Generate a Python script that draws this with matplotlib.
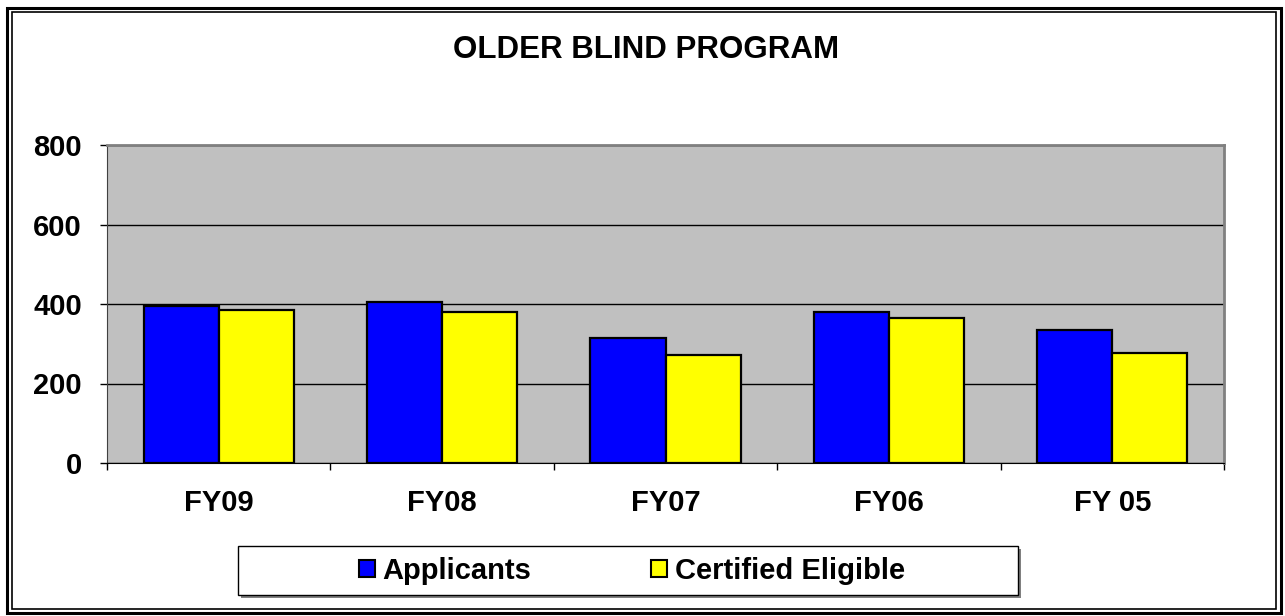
import numpy as np
import matplotlib
matplotlib.use("Agg")
import matplotlib.pyplot as plt
from matplotlib.patches import Rectangle, Patch

plt.rcParams['font.family'] = ['Liberation Sans', 'DejaVu Sans']
plt.rcParams['font.weight'] = 'bold'

# data
years = ["FY09", "FY08", "FY07", "FY06", "FY 05"]
applicants = [396, 404, 314, 379, 335]
certified = [385, 379, 272, 366, 277]

W, H = 1285, 616
fig = plt.figure(figsize=(W / 100, H / 100), dpi=100)

def fx(px):
    return px / W

def fy(py):
    return 1 - py / H

ax = fig.add_axes([fx(107), fy(463), fx(1224) - fx(107), fy(145) - fy(463)])
ax.set_facecolor("#C0C0C0")

x = np.arange(len(years))
bw = 0.336
ax.bar(x - bw / 2, applicants, bw, color="#0000FF", edgecolor="black", linewidth=1.6, zorder=3)
ax.bar(x + bw / 2, certified, bw, color="#FFFF00", edgecolor="black", linewidth=1.6, zorder=3)

ax.set_xlim(-0.5, len(years) - 0.5)
ax.set_ylim(0, 800)
ax.set_yticks([0, 200, 400, 600, 800])
ax.yaxis.grid(True, color="black", linewidth=1.0, zorder=1)
ax.set_axisbelow(True)

# category boundaries as major ticks, names on minor ticks
ax.set_xticks(np.arange(-0.5, len(years), 1.0))
ax.set_xticklabels([])
ax.set_xticks(x, minor=True)
ax.set_xticklabels(years, minor=True, fontsize=21, fontweight="bold")
ax.tick_params(axis="x", which="minor", length=0, pad=19)
ax.tick_params(axis="x", which="major", length=5, width=1, color="black")
ax.tick_params(axis="y", length=5, width=1, pad=13, labelsize=21)

for s in ["top", "right"]:
    ax.spines[s].set_color("#808080")
    ax.spines[s].set_linewidth(2)
ax.spines["left"].set_color("#404040")
ax.spines["bottom"].set_color("black")

fig.text(fx(646), fy(58), "OLDER BLIND PROGRAM", ha="center", va="baseline",
         fontsize=22.5, fontweight="bold")

# legend box with shadow
fig.patches.append(Rectangle((fx(241), fy(598)), fx(1021) - fx(241), fy(549) - fy(598),
                             transform=fig.transFigure, facecolor="#808080",
                             edgecolor="none", zorder=1))
fig.patches.append(Rectangle((fx(238), fy(595)), fx(1018) - fx(238), fy(546) - fy(595),
                             transform=fig.transFigure, facecolor="white",
                             edgecolor="black", linewidth=1.0, zorder=2))
handles = [Patch(facecolor="#0000FF", edgecolor="black", linewidth=1.5),
           Patch(facecolor="#FFFF00", edgecolor="black", linewidth=1.5)]
leg = fig.legend(handles, ["Applicants", "Certified Eligible"], ncol=2, frameon=False,
                 loc="center", bbox_to_anchor=(fx(632), fy(571)),
                 prop={"size": 21, "weight": "bold"}, handlelength=0.55,
                 handleheight=0.55, handletextpad=0.27, columnspacing=4.1)
leg.set_zorder(5)

# double border around the whole chart
fig.patches.append(Rectangle((fx(7), fy(613)), fx(1281) - fx(7), fy(8) - fy(613),
                             transform=fig.transFigure, fill=False,
                             edgecolor="black", linewidth=2.2))
fig.patches.append(Rectangle((fx(12), fy(609)), fx(1276) - fx(12), fy(12) - fy(609),
                             transform=fig.transFigure, fill=False,
                             edgecolor="black", linewidth=1.2))

fig.savefig("out.png", dpi=100)
